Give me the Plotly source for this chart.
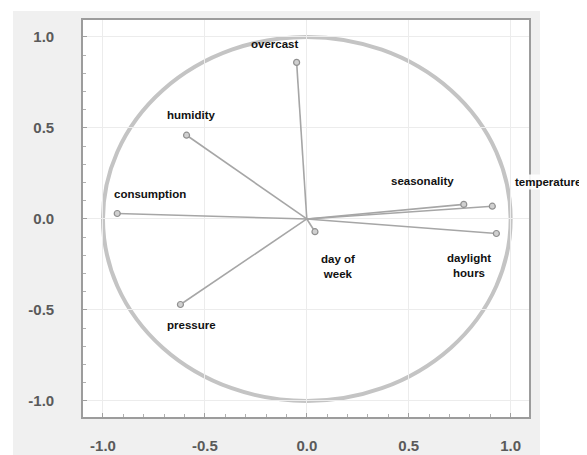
import plotly.graph_objects as go

# ---- data ----
variables = ["overcast", "humidity", "consumption", "seasonality", "temperature",
             "daylight<br>hours", "day of<br>week", "pressure"]
pc1 = [-0.05, -0.59, -0.93, 0.77, 0.91, 0.93, 0.04, -0.62]
pc2 = [0.86, 0.46, 0.03, 0.08, 0.07, -0.08, -0.07, -0.47]

tick_vals = [-1.0, -0.5, 0.0, 0.5, 1.0]
tick_text = ["-1.0", "-0.5", "0.0", "0.5", "1.0"]

# label pixel offsets (style/position only)
label_dx = [-22, 5, 33, -41, 56, -27, 23, 11]
label_dy = [18, 20, 19, 23, 24, -32, -35, -20]

line_x, line_y = [], []
for x, y in zip(pc1, pc2):
    line_x += [0, x, None]
    line_y += [0, y, None]

fig = go.Figure()
fig.add_trace(go.Scatter(x=line_x, y=line_y, mode="lines",
                         line=dict(color="#a6a6a6", width=1.6),
                         hoverinfo="skip", showlegend=False))
fig.add_trace(go.Scatter(x=pc1, y=pc2, mode="markers",
                         marker=dict(size=6, color="#d0d0d0",
                                     line=dict(color="#909090", width=1.2)),
                         text=variables, showlegend=False))

label_font = dict(family="Liberation Sans, Arial, sans-serif",
                  size=11.5, color="#111111")
for v, x, y, dx, dy in zip(variables, pc1, pc2, label_dx, label_dy):
    fig.add_annotation(x=x, y=y, text="<b>" + v + "</b>", showarrow=False,
                       xshift=dx, yshift=dy, font=label_font,
                       bgcolor="rgba(255,255,255,0.9)" if v == "temperature" else None)

shapes = [
    # grey panel behind plot
    dict(type="rect", xref="paper", yref="paper", x0=-0.157, x1=1.0247, y0=-0.13, y1=1.0227,
         fillcolor="#f0f0f0", line=dict(width=0), layer="below"),
    # white plotting area
    dict(type="rect", xref="paper", yref="paper", x0=0, x1=1, y0=0, y1=1,
         fillcolor="white", line=dict(width=0), layer="below"),
    # unit circle
    dict(type="circle", xref="x", yref="y", x0=-1, y0=-1, x1=1, y1=1,
         line=dict(color="#c4c4c4", width=4), layer="below"),
]

tick_font = dict(family="Liberation Sans, Arial, sans-serif",
                 size=15, color="#5a5a5a", weight="bold")

axis_common = dict(
    tickvals=tick_vals, ticktext=tick_text, automargin=False,
    showgrid=True, gridcolor="#ececec", gridwidth=1,
    zeroline=False, showline=True, linecolor="#9c9c9c", linewidth=1.6, mirror=True,
    ticks="inside", ticklen=4, tickcolor="#a0a0a0",
    minor=dict(dtick=0.1, ticks="inside", ticklen=3, tickcolor="#b0b0b0", showgrid=False),
    tickfont=tick_font, fixedrange=True,
)

fig.update_layout(
    width=579, height=447,
    margin=dict(l=75, r=58, t=12, b=38),
    paper_bgcolor="white", plot_bgcolor="white",
    shapes=shapes,
    xaxis=dict(axis_common, range=[-1.098, 1.09], ticklabelstandoff=14),
    yaxis=dict(axis_common, range=[-1.088, 1.093], ticklabelstandoff=24),
    showlegend=False,
)

fig.write_html("out.html")
